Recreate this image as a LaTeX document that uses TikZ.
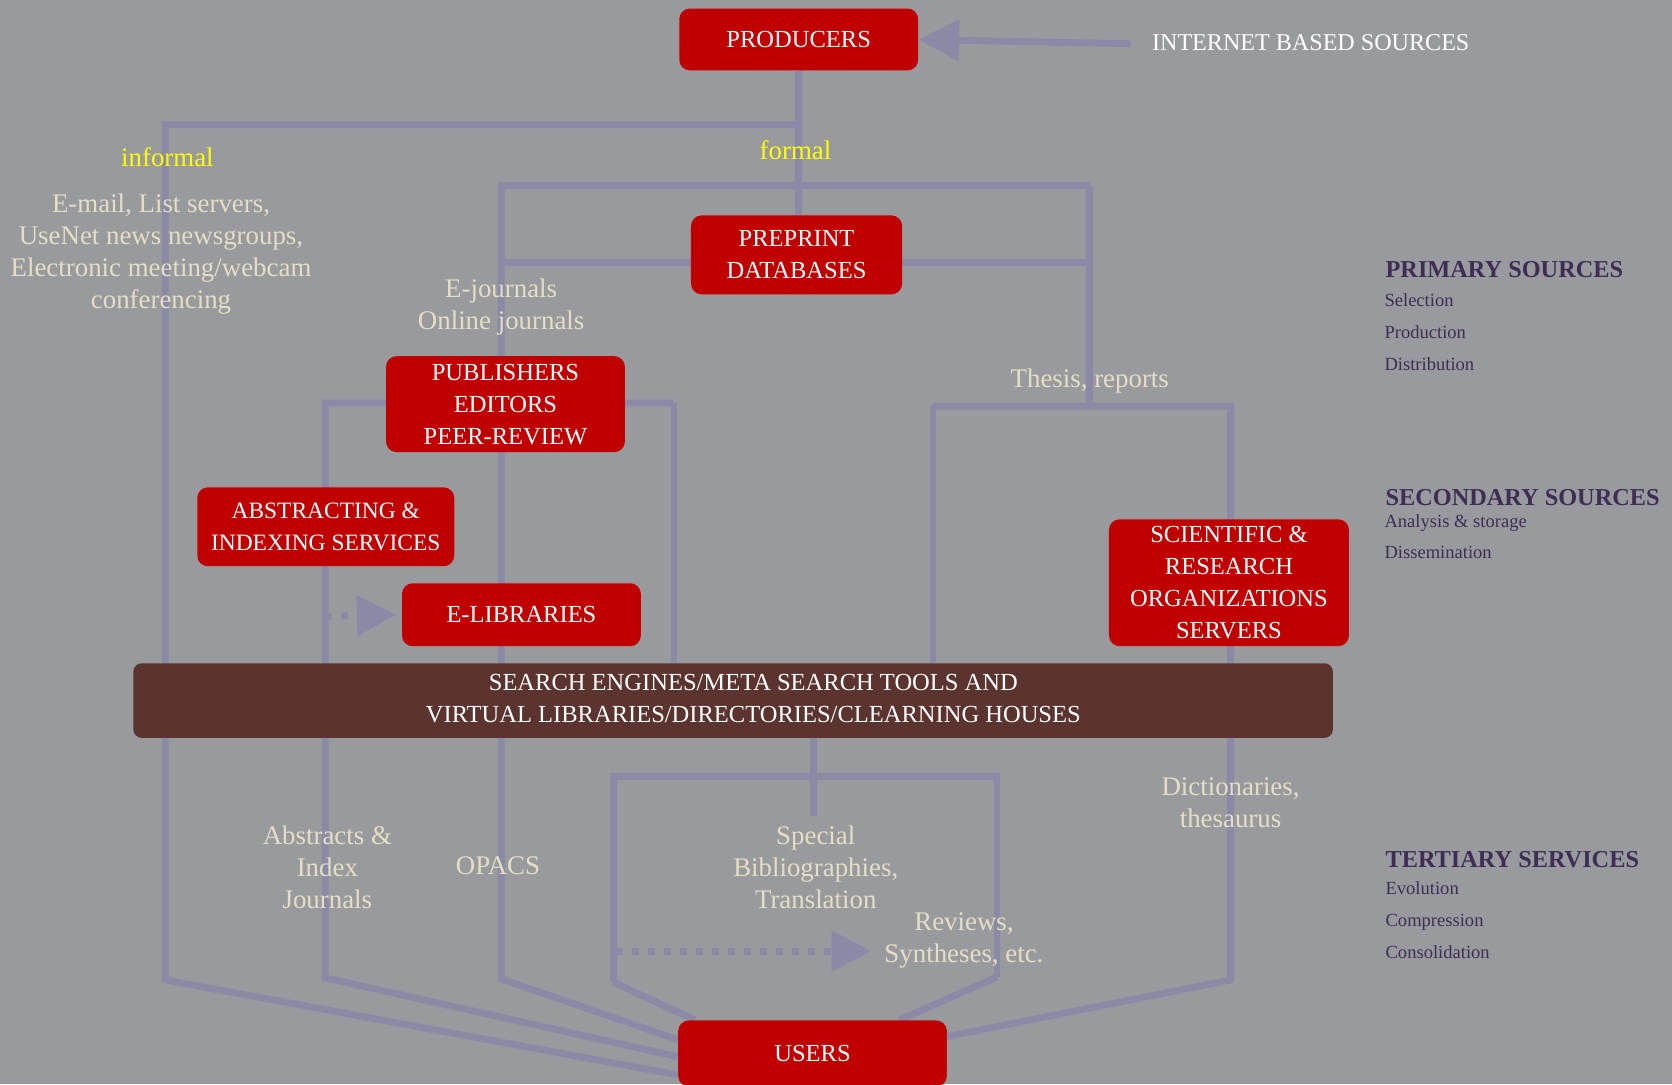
\documentclass[tikz,border=0pt]{standalone}
\usepackage{fontspec}
\setmainfont{Liberation Serif}
\usetikzlibrary{arrows.meta,calc}
\pgfdeclarelayer{bg}
\pgfsetlayers{bg,main}
\definecolor{bgc}{HTML}{999A9E}
\definecolor{linec}{HTML}{8A8AA7}
\definecolor{boxred}{HTML}{C00000}
\definecolor{brownbox}{HTML}{5B342F}
\definecolor{beige}{HTML}{E4DFC4}
\definecolor{purp}{HTML}{3E2E55}
\definecolor{yel}{HTML}{FFFF00}
\begin{document}
\begin{tikzpicture}[x=0.5pt,y=-0.5pt,
  rbox/.style={fill=boxred, rounded corners=5pt, text=white, font=\fontsize{11.5}{15}\selectfont, align=center, inner sep=0pt},
  brbox/.style={fill=brownbox, rounded corners=4pt, text=white, font=\fontsize{11.5}{15}\selectfont, inner sep=0pt},
  conn/.style={draw=linec, line width=3.2pt},
  dotconn/.style={conn, dash pattern=on 3pt off 4.5pt},
  bigtip/.style={-{Triangle[length=18.5pt,width=18.5pt]}},
  lbl/.style={text=beige, font=\fontsize{12.6}{15}\selectfont, align=center, inner sep=0pt, yshift=-1.5pt},
  oneline/.style={text height=0.68em, text depth=0pt},
  hdr/.style={text=purp, font=\bfseries\fontsize{11.4}{14}\selectfont, anchor=west, inner sep=0pt, text height=0.68em, text depth=0pt, yshift=-1pt},
  sublbl/.style={text=purp, font=\fontsize{8.7}{11}\selectfont, anchor=west, inner sep=0pt, text height=0.68em, text depth=0pt}
]
\useasboundingbox (0,0) rectangle (1568,1017);

% boxes
\node[rbox, minimum width=112pt, minimum height=29pt] (prod) at (749,37) {PRODUCERS};
\node[rbox, minimum width=99pt, minimum height=37pt] (pre) at (747,239) {PREPRINT\\DATABASES};
\node[rbox, minimum width=112pt, minimum height=45pt] (pub) at (474,379) {PUBLISHERS\\EDITORS\\PEER-REVIEW};
\node[rbox, minimum width=120.5pt, minimum height=37pt, font=\fontsize{11}{15}\selectfont] (abs) at (305.5,494) {ABSTRACTING \&\\INDEXING SERVICES};
\node[rbox, minimum width=112pt, minimum height=29.5pt] (elib) at (489,576.5) {E-LIBRARIES};
\node[rbox, minimum width=112.5pt, minimum height=59.5pt] (sci) at (1152.5,546.5) {SCIENTIFIC \&\\RESEARCH\\ORGANIZATIONS\\SERVERS};
\node[rbox, minimum width=126pt, minimum height=31pt] (users) at (762,988) {USERS};
\node[brbox, minimum width=562.5pt, minimum height=35pt] (search) at (687.5,657)
  {\hspace*{19pt}\raisebox{1.5pt}{\begin{tabular}{@{}c@{}}SEARCH ENGINES/META SEARCH TOOLS AND\\VIRTUAL LIBRARIES/DIRECTORIES/CLEARNING HOUSES\end{tabular}}};

% labels
\node[lbl, oneline, text=yel] (inf) at (157,146) {informal};
\node[lbl, oneline, text=yel] (form) at (746,140) {formal};
\node[lbl] (email) at (151,235) {E-mail, List servers,\\UseNet news newsgroups,\\Electronic meeting/webcam\\conferencing};
\node[lbl] (ej) at (470,285) {E-journals\\Online journals};
\node[lbl, oneline] (thesis) at (1022,354) {Thesis, reports};
\node[lbl] (absj) at (307,810) {Abstracts \&\\Index\\Journals};
\node[lbl, oneline] (opacs) at (467,810) {OPACS};
\node[lbl] (spec) at (765,810) {Special\\Bibliographies,\\Translation};
\node[lbl] (rev) at (904,879) {Reviews,\\Syntheses, etc.};
\node[lbl] (dict) at (1154,750) {Dictionaries,\\thesaurus};
\node[text=white, font=\fontsize{11.3}{14}\selectfont, anchor=west, inner sep=0pt, text height=0.68em, text depth=0pt] (inet) at (1080,41) {INTERNET BASED SOURCES};

% right side legend
\node[hdr] (prim) at (1299,251) {PRIMARY SOURCES};
\node[sublbl] (sel) at (1298,281) {Selection};
\node[sublbl] (prodn) at (1298,311) {Production};
\node[sublbl] (dist) at (1298,341) {Distribution};
\node[hdr] (sec) at (1299,465) {SECONDARY SOURCES};
\node[sublbl] (anal) at (1298,488) {Analysis \& storage};
\node[sublbl] (diss) at (1298,517) {Dissemination};
\node[hdr] (ter) at (1299,805) {TERTIARY SERVICES};
\node[sublbl] (evo) at (1299,832) {Evolution};
\node[sublbl] (comp) at (1299,862) {Compression};
\node[sublbl] (cons) at (1299,892) {Consolidation};

\begin{pgfonlayer}{bg}
\fill[bgc] (0,0) rectangle (1568,1017);
% junctions and corners
\coordinate (jInf) at (749,117);
\coordinate (cInf) at (155,117);
\coordinate (bInf) at (155,919);
\coordinate (jForL) at (470,174);
\coordinate (jForR) at (1022,174);
\coordinate (bFor) at (470,918);
\coordinate (ppL) at (470,246);
\coordinate (ppR) at (1022,246);
\coordinate (thR0) at (1022,381);
\coordinate (thL) at (875,381);
\coordinate (thR) at (1154,381);
\coordinate (bTh) at (1154,919);
\coordinate (puL) at (305,378);
\coordinate (puR) at (632,378);
\coordinate (bPu) at (305,917);
\coordinate (elS) at (305,578);
\coordinate (spE) at (763,765);
\coordinate (spL) at (575,728);
\coordinate (spR) at (935,728);
\coordinate (bSpL) at (575,921);
\coordinate (bSpR) at (935,916);
\coordinate (rvS) at (578,892);
\coordinate (rvT) at (817,892);

\draw[conn] (prod.south) -- (prod.south |- pre.north);
\draw[conn] (jInf) -- (cInf) -- (bInf) -- ([yshift=-10pt]users.west);
\draw[conn] (jForR) -- (jForL) -- (bFor) -- ([yshift=6.5pt]users.west);
\draw[conn] (jForR) -- (thR0);
\draw[conn] (ppL) -- (ppR);
\draw[conn] (thL) -- (thR) -- (bTh) -- ([yshift=8pt]users.east);
\draw[conn] (thL) -- (thL |- search.north);
\draw[conn] (puR) -- (puL) -- (bPu) -- ([yshift=-1.5pt]users.west);
\draw[conn] (puR) -- (puR |- search.north);
\draw[dotconn, bigtip] (elS) -- ([xshift=-2.5pt]elib.west);
\draw[conn] (search.south -| spE) -- (spE);
\draw[conn] (bSpL) -- (spL) -- (spR) -- (bSpR);
\draw[conn] (bSpL) -- ([xshift=8pt]users.north west);
\draw[conn] (bSpR) -- ([xshift=-22.5pt]users.north east);
\draw[dotconn, bigtip] (rvS) -- (rvT);
\draw[conn, -{Triangle[length=19pt,width=19pt]}] ([xshift=-10pt]inet.west) -- (prod.east);
\end{pgfonlayer}
\end{tikzpicture}
\end{document}
